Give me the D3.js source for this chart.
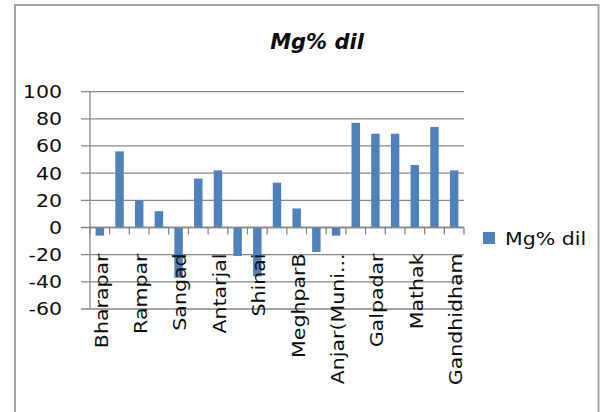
<!DOCTYPE html>
<html>
<head>
<meta charset="utf-8">
<script src="https://cdn.jsdelivr.net/npm/d3@7"></script>
<style>
  body { margin: 0; background: #fff; }
  text { font-family: "DejaVu Sans", sans-serif; fill: #0d0d0d; }
</style>
</head>
<body>
<svg id="chart" width="600" height="412"></svg>
<script>
// category names (only every second one is printed on the axis, the rest are hidden)
let categories = ["Bharapar", "", "Rampar", "", "Sangad", "", "Antarjal", "", "Shinai", "",
  "MeghparB", "", "Anjar(Muni...", "", "Galpadar", "", "Mathak", "", "Gandhidham"];

// Mg% dil values
let mgDil = [-6, 56, 20, 12, -37, 36, 42, -21, -36, 33, 14, -18, -6, 77, 69, 69, 46, 74, 42];

// y tick labels
let yTicks = [-60, -40, -20, 0, 20, 40, 60, 80, 100];

let seriesName = "Mg% dil";
let title = "Mg% dil";

let svg = d3.select("#chart");
let grid = "#868686";
let barColor = "#4f81bd";
let stretch = 1.14; // the original font is wider than DejaVu

// outer chart frame
svg.append("rect")
  .attr("x", 15).attr("y", 5)
  .attr("width", 583.5).attr("height", 430)
  .attr("fill", "none").attr("stroke", "#a3a3a3").attr("stroke-width", 2);

// scales
let left = 90, right = 464;
let y = d3.scaleLinear().domain([-60, 100]).range([309, 91.6]);
let idx = d3.range(mgDil.length);
let x = d3.scaleBand().domain(idx).range([left, right])
  .paddingInner(0.57).paddingOuter(0.285);
let xb = d3.scaleLinear().domain([0, mgDil.length]).range([left, right]);

// gridlines with the small tick to the left of the axis
svg.append("g").selectAll("line").data(yTicks).join("line")
  .attr("x1", 81).attr("x2", right)
  .attr("y1", d => y(d)).attr("y2", d => y(d))
  .attr("stroke", grid).attr("stroke-width", 1.3);

// y axis line
svg.append("line")
  .attr("x1", left).attr("x2", left)
  .attr("y1", y(100)).attr("y2", y(-60))
  .attr("stroke", grid).attr("stroke-width", 1.3);

// y tick labels
svg.append("g").selectAll("text").data(yTicks).join("text")
  .attr("transform", d => `translate(62,${y(d)}) scale(${stretch},1)`)
  .attr("text-anchor", "end")
  .attr("dy", "0.36em")
  .style("font-size", "18px")
  .text(d => d);

// bars
svg.append("g").selectAll("rect").data(mgDil).join("rect")
  .attr("x", (d, i) => x(i))
  .attr("width", x.bandwidth())
  .attr("y", d => y(Math.max(0, d)))
  .attr("height", d => Math.abs(y(d) - y(0)))
  .attr("fill", barColor);

// category axis at zero, ticks at the category boundaries
svg.append("line")
  .attr("x1", left).attr("x2", right)
  .attr("y1", y(0)).attr("y2", y(0))
  .attr("stroke", grid).attr("stroke-width", 1.3);

svg.append("g").selectAll("line").data(d3.range(mgDil.length + 1)).join("line")
  .attr("x1", d => xb(d)).attr("x2", d => xb(d))
  .attr("y1", y(0)).attr("y2", y(0) + 7)
  .attr("stroke", grid).attr("stroke-width", 1.3);

// rotated category labels
svg.append("g").selectAll("text").data(categories).join("text")
  .attr("transform", (d, i) =>
    `translate(${x(i) + x.bandwidth() / 2 + 1},${y(0) + 26}) rotate(-90) scale(${stretch},1)`)
  .attr("text-anchor", "end")
  .attr("dy", "0.38em")
  .style("font-size", "18px")
  .text(d => d);

// title
svg.append("text")
  .attr("x", 317).attr("y", 49)
  .attr("text-anchor", "middle")
  .style("font-size", "21px")
  .style("font-weight", "bold")
  .style("font-style", "italic")
  .text(title);

// legend
let legend = svg.append("g");
legend.append("rect")
  .attr("x", 483).attr("y", 232)
  .attr("width", 12).attr("height", 12)
  .attr("fill", barColor);
legend.append("text")
  .attr("transform", `translate(505,245) scale(${stretch},1)`)
  .style("font-size", "18px")
  .text(seriesName);
</script>
</body>
</html>
